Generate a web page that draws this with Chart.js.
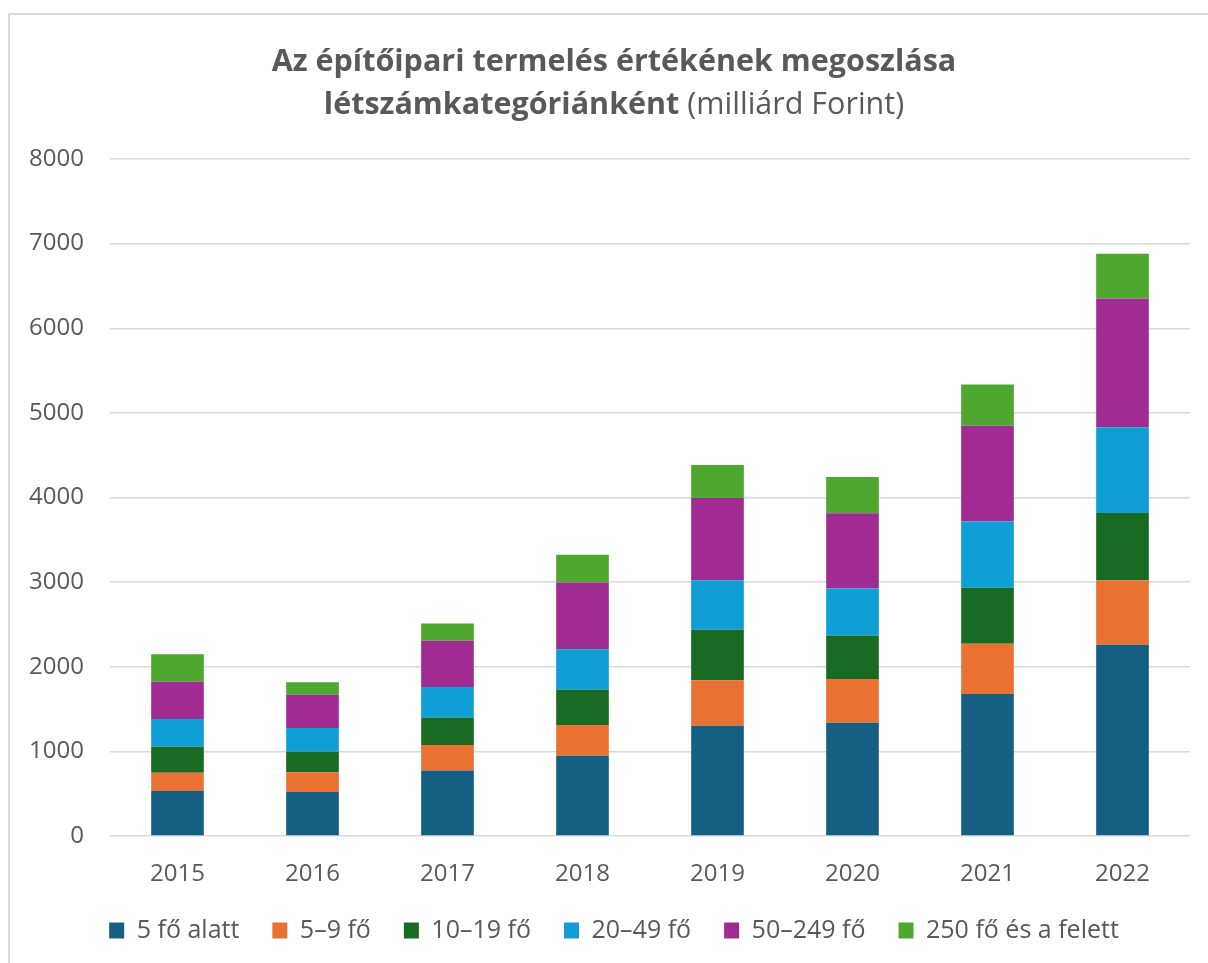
<!DOCTYPE html>
<html lang="hu">
<head>
<meta charset="utf-8">
<script src="https://cdn.jsdelivr.net/npm/chart.js@4"></script>
<style>
  html, body { margin: 0; padding: 0; background: #fff; width: 1208px; height: 963px; overflow: hidden; }
  #frame { position: absolute; left: 8px; top: 13px; width: 1220px; height: 970px; border: 2px solid #d9d9d9; box-sizing: border-box; }
  #title { position: absolute; left: 8px; top: 13px; width: 1212px; text-align: center; color: #595959;
           font-family: "Open Sans", sans-serif; font-size: 30.5px; line-height: 43px; padding-top: 25px; }
  #title b { font-weight: 700; }
  #title span.n { font-weight: 400; }
  #wrap { position: absolute; left: 10px; top: 15px; width: 1208px; height: 948px; }
</style>
</head>
<body>
<div id="frame"></div>
<div id="wrap"><canvas id="c"></canvas></div>
<div id="title"><b>Az építőipari termelés értékének megoszlása</b><br><b>létszámkategóriánként</b> <span class="n">(milliárd Forint)</span></div>
<script>
const years = ["2015", "2016", "2017", "2018", "2019", "2020", "2021", "2022"];
const seriesNames = ["5 fő alatt", "5–9 fő", "10–19 fő", "20–49 fő", "50–249 fő", "250 fő és a felett"];
const under5 = [533, 521, 774, 947, 1302, 1339, 1679, 2259];
const from5to9 = [213, 233, 300, 364, 538, 515, 593, 763];
const from10to19 = [308, 241, 327, 418, 598, 515, 663, 796];
const from20to49 = [328, 280, 360, 478, 584, 556, 782, 1012];
const from50to249 = [442, 395, 545, 789, 971, 888, 1131, 1522];
const over250 = [324, 146, 205, 328, 391, 428, 488, 529];
const yTicks = [0, 1000, 2000, 3000, 4000, 5000, 6000, 7000, 8000];
const colors = ["#156082", "#E97132", "#196B24", "#0F9ED5", "#A02B93", "#4EA72E"];

const seriesValues = [under5, from5to9, from10to19, from20to49, from50to249, over250];
const datasets = seriesNames.map((name, i) => ({
  label: name,
  data: seriesValues[i],
  backgroundColor: colors[i],
  borderWidth: 0,
  barPercentage: 0.39,
  categoryPercentage: 1.0,
  yAxisID: "y"
}));

const tickFont = { family: "'Open Sans', sans-serif", size: 24 };
const legendFont = { family: "'Open Sans', sans-serif", size: 25 };
new Chart(document.getElementById("c"), {
  type: "bar",
  data: { labels: years, datasets },
  options: {
    responsive: true,
    maintainAspectRatio: false,
    animation: false,
    layout: { padding: { top: 144, left: 0, right: 0, bottom: 10 } },
    plugins: {
      title: { display: false },
      tooltip: { enabled: false },
      legend: {
        position: "bottom",
        labels: {
          color: "#595959",
          font: legendFont,
          boxWidth: 15,
          boxHeight: 16,
          padding: 33
        }
      }
    },
    scales: {
      x: {
        stacked: true,
        grid: { display: false, drawTicks: false },
        border: { display: false },
        ticks: { color: "#595959", font: tickFont, padding: 24 },
        afterFit: (scale) => { scale.height = 49; }
      },
      y: {
        stacked: true,
        position: "left",
        min: 0,
        max: 8000,
        afterBuildTicks: (axis) => { axis.ticks = yTicks.map(v => ({ value: v })); },
        grid: { color: "#d9d9d9", lineWidth: 1.5, drawTicks: false },
        border: { display: false },
        ticks: { color: "#595959", font: tickFont, padding: 26, callback: (v) => String(v) },
        afterFit: (scale) => { scale.width = 100; }
      },
      yRightSpace: {
        type: "linear",
        position: "right",
        min: 0,
        max: 8000,
        grid: { display: false, drawTicks: false },
        border: { display: false },
        ticks: { display: false },
        afterFit: (scale) => { scale.width = 28; }
      }
    }
  }
});
</script>
</body>
</html>
